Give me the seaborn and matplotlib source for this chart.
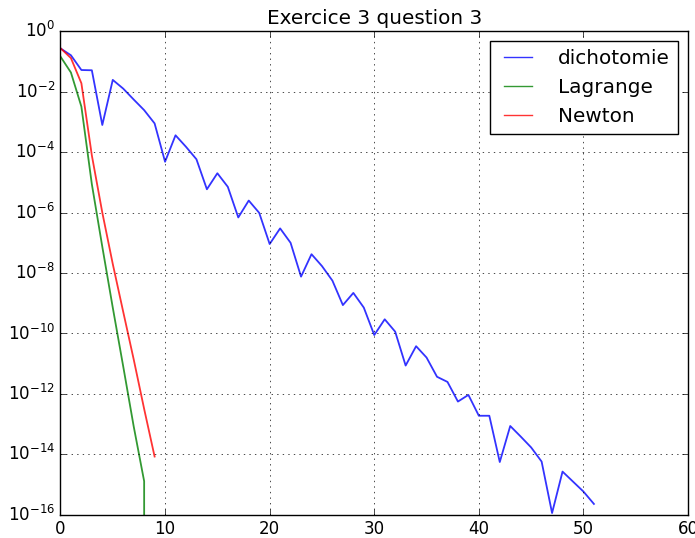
import numpy as np
import matplotlib
matplotlib.use("Agg")
import matplotlib.pyplot as plt
import seaborn as sns

# ==========================
# Data (errors per iteration)
# ==========================

dicho_err = [2.7e-1, 1.6e-1, 5.2e-2, 5.1e-2, 7.9e-4, 2.45e-2, 1.26e-2, 5.5e-3,
             2.45e-3, 8.9e-4, 4.8e-5, 3.6e-4, 1.5e-4, 5.8e-5, 5.9e-6, 2.0e-5,
             7.1e-6, 6.9e-7, 2.5e-6, 9.8e-7, 9.1e-8, 3.0e-7, 1.0e-7, 7.6e-9,
             4.2e-8, 1.7e-8, 5.6e-9, 8.7e-10, 2.2e-9, 7.2e-10, 8.9e-11, 2.95e-10,
             1.15e-10, 8.7e-12, 3.8e-11, 1.6e-11, 3.7e-12, 2.5e-12, 5.6e-13, 9.3e-13,
             1.9e-13, 1.9e-13, 5.6e-15, 8.7e-14, 3.9e-14, 1.7e-14, 5.8e-15, 1.15e-16,
             2.7e-15, 1.26e-15, 5.9e-16, 2.3e-16]

lagrange_err = [1.45e-1, 4.3e-2, 3.2e-3, 8.7e-6, 7.4e-8, 7.2e-10, 8.1e-12,
                8.5e-14, 1.3e-15, 0.0]

newton_err = [2.75e-1, 1.29e-1, 1.9e-2, 7.8e-5, 1.0e-6, 2.0e-8, 5.2e-10,
              1.4e-11, 3.2e-13, 8.5e-15]

# ==========================
# Plot
# ==========================

plt.style.use("classic")

fig, ax = plt.subplots(figsize=(6.95, 5.38), dpi=100)
fig.patch.set_facecolor("white")
fig.subplots_adjust(left=0.087, right=0.99, top=0.942, bottom=0.043)

sns.lineplot(x=np.arange(len(dicho_err)), y=dicho_err, ax=ax,
             color="b", alpha=0.8, lw=1.3, label="dichotomie", estimator=None)
sns.lineplot(x=np.arange(len(lagrange_err)), y=lagrange_err, ax=ax,
             color="g", alpha=0.8, lw=1.3, label="Lagrange", estimator=None)
sns.lineplot(x=np.arange(len(newton_err)), y=newton_err, ax=ax,
             color="r", alpha=0.8, lw=1.3, label="Newton", estimator=None)

ax.set_yscale("log", nonpositive="clip")
ax.set_xlim(0, 60)
ax.set_ylim(1e-16, 1)
ax.grid(True)
ax.set_title("Exercice 3 question 3")
leg = ax.legend(loc="upper right", handletextpad=1.0)
for line in leg.get_lines():
    line.set_linewidth(1.0)

plt.savefig("out.png", dpi=100, facecolor="white")
